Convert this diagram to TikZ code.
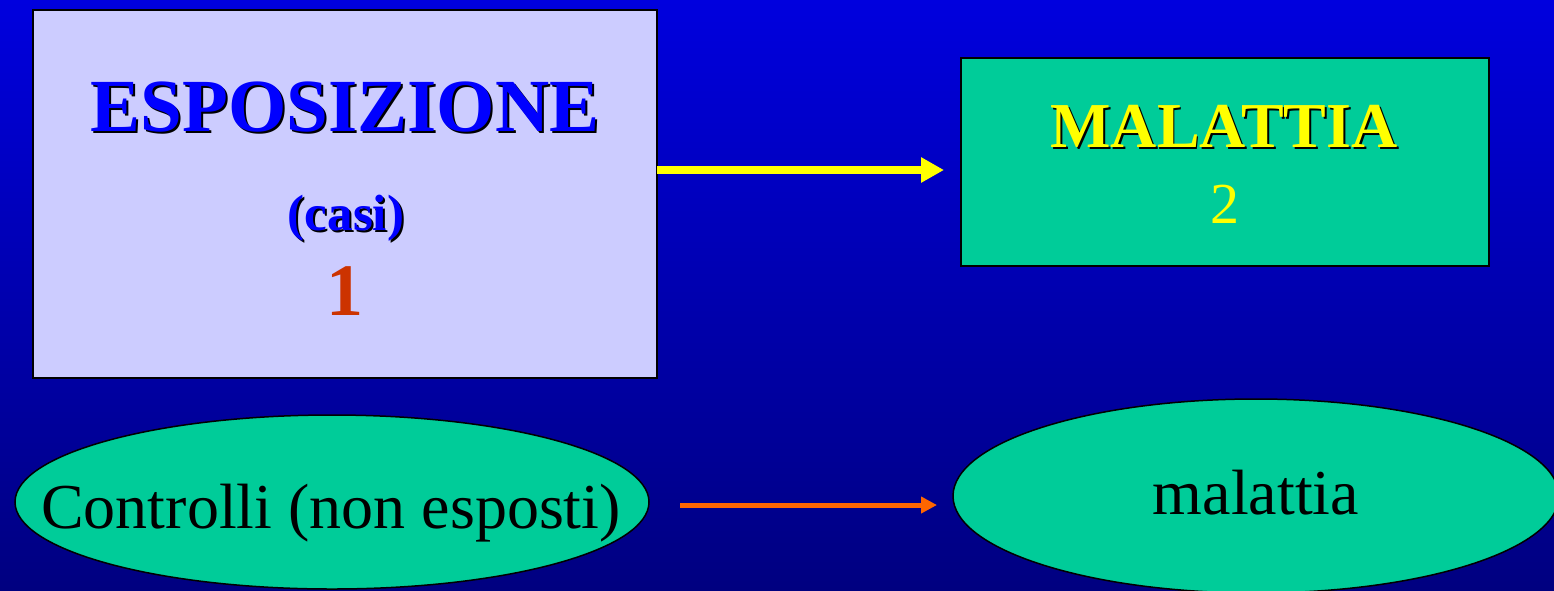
\documentclass[tikz,border=0pt]{standalone}
\usepackage{fontspec}
\setmainfont{Liberation Serif}
\usepackage{tikz}
\usetikzlibrary{shapes.geometric}
\usetikzlibrary{arrows.meta}
\tikzset{
	txt/.style={inner sep=0, outer sep=0, anchor=base},
	panel/.style={draw=custcol_0_0_0, line width=1.5pt, inner sep=0, outer sep=0},
}

\begin{document}
\begin{tikzpicture}[x=1pt,y=-1pt]
						\definecolor{custcol_0_0_de}{RGB}{0, 0, 222}
						\definecolor{custcol_0_0_80}{RGB}{0, 0, 128}
						\definecolor{custcol_0_0_0}{RGB}{0, 0, 0}
						\definecolor{custcol_0_0_ff}{RGB}{0, 0, 255}
						\definecolor{custcol_cc_cc_ff}{RGB}{204, 204, 255}
						\definecolor{custcol_0_cc_99}{RGB}{0, 204, 153}
						\definecolor{custcol_cc_33_0}{RGB}{204, 51, 0}
						\definecolor{custcol_ff_ff_0}{RGB}{255, 255, 0}
						\definecolor{custcol_ff_66_0}{RGB}{255, 102, 0}
						\useasboundingbox (0,0) rectangle (1554,590);
						\fill [top color=custcol_0_0_de, bottom color=custcol_0_0_80]  (0,0) rectangle (1554,590) ;
						% boxes and ellipses
						\node [panel, fill=custcol_cc_cc_ff, minimum width=624pt, minimum height=368pt] (esposbox) at  (345,194)  {};
						\node [panel, fill=custcol_0_cc_99, minimum width=528pt, minimum height=208pt] (malbox) at  (1225,162)  {};
						\node [panel, ellipse, fill=custcol_0_cc_99, minimum width=634pt, minimum height=174pt] (ctrlell) at  (332,502)  {};
						\node [panel, ellipse, fill=custcol_0_cc_99, minimum width=606pt, minimum height=194pt] (malell) at  (1256,496)  {};
						% arrows
						\coordinate (maltip) at (944,170);
						\draw [line width=8pt, custcol_ff_ff_0, -{Triangle[length=23pt,width=24pt]}]  (esposbox.east |- maltip) -- (maltip) ;
						\coordinate (ctrlout) at (680,505);
						\coordinate (maltipB) at (937,505);
						\draw [line width=5pt, custcol_ff_66_0, -{Triangle[length=16pt,width=16pt]}]  (ctrlout) -- (maltipB) ;
						% texts
						{\fontsize{75pt}{75pt}\bfseries\selectfont\node[txt, custcol_0_0_0] (esposizioneS) at  (347,133)  {ESPOSIZIONE};
						\node[txt, custcol_0_0_ff] (esposizione) at  (345,131)  {ESPOSIZIONE};}
						{\fontsize{51pt}{51pt}\bfseries\selectfont\node[txt, custcol_0_0_0] (casiS) at  (348,232)  {(casi)};
						\node[txt, custcol_0_0_ff] (casi) at  (346,230)  {(casi)};}
						{\fontsize{74pt}{74pt}\bfseries\selectfont\node[txt, custcol_cc_33_0] (uno) at  (345,315)  {1};}
						{\fontsize{64pt}{64pt}\bfseries\selectfont\node[txt, custcol_0_0_0] (malattiaS) at  (1226,149)  {MALATTIA};
						\node[txt, custcol_ff_ff_0] (malattia) at  (1224,147)  {MALATTIA};}
						{\fontsize{58pt}{58pt}\selectfont\node[txt, custcol_ff_ff_0] (due) at  (1225,223)  {2};}
						{\fontsize{64pt}{64pt}\selectfont\node[txt, custcol_0_0_0] (controlli) at  (331,528)  {Controlli (non esposti)};
						\node[txt, custcol_0_0_0] (malattiaB) at  (1256,514)  {malattia};}
						\end{tikzpicture}
\end{document}
